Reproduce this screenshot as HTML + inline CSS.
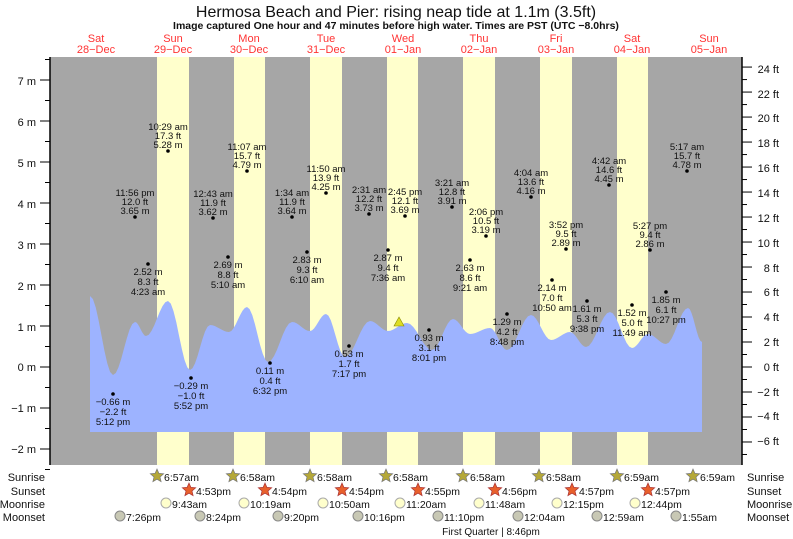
<!DOCTYPE html>
<html><head><meta charset="utf-8"><style>
html,body{margin:0;padding:0;background:#fff}
svg{display:block;font-family:"Liberation Sans",sans-serif}
</style></head><body>
<svg id="s" width="793" height="539" viewBox="0 0 793 539" xmlns="http://www.w3.org/2000/svg">
<text x="396" y="17" font-size="16" text-anchor="middle" fill="#111">Hermosa Beach and Pier: rising  neap tide at 1.1m (3.5ft)</text>
<text x="396" y="29" font-size="10.5" font-weight="bold" text-anchor="middle" fill="#111">Image captured One hour and 47 minutes before high water. Times are PST (UTC −8.0hrs)</text>
<g font-size="11" fill="#f33" text-anchor="middle">
<text x="96" y="42">Sat</text><text x="96" y="53">28−Dec</text>
<text x="173" y="42">Sun</text><text x="173" y="53">29−Dec</text>
<text x="249" y="42">Mon</text><text x="249" y="53">30−Dec</text>
<text x="326" y="42">Tue</text><text x="326" y="53">31−Dec</text>
<text x="403" y="42">Wed</text><text x="403" y="53">01−Jan</text>
<text x="479" y="42">Thu</text><text x="479" y="53">02−Jan</text>
<text x="556" y="42">Fri</text><text x="556" y="53">03−Jan</text>
<text x="632" y="42">Sat</text><text x="632" y="53">04−Jan</text>
<text x="709" y="42">Sun</text><text x="709" y="53">05−Jan</text>
</g>
<rect x="50" y="57" width="692" height="408" fill="#a6a6a6"/>
<g fill="#ffffcc">
<rect x="157" y="57" width="32" height="408"/><rect x="234" y="57" width="31" height="408"/>
<rect x="310" y="57" width="32" height="408"/><rect x="387" y="57" width="31" height="408"/>
<rect x="463" y="57" width="32" height="408"/><rect x="540" y="57" width="32" height="408"/>
<rect x="617" y="57" width="31" height="408"/>
</g>
<path id="tide" fill="#9db3ff" d=""/>
<line x1="50" y1="57" x2="50" y2="465" stroke="#000" stroke-width="1.5"/>
<line x1="742" y1="57" x2="742" y2="465" stroke="#000" stroke-width="1.5"/>
<g id="ticks" stroke="#000"></g>
<g font-size="11" fill="#111" text-anchor="end">
<text x="36" y="85">7 m</text><text x="36" y="126">6 m</text><text x="36" y="167">5 m</text><text x="36" y="208">4 m</text><text x="36" y="249">3 m</text><text x="36" y="290">2 m</text><text x="36" y="331">1 m</text><text x="36" y="371">0 m</text><text x="36" y="412">−1 m</text><text x="36" y="453">−2 m</text>
</g>
<g font-size="11" fill="#111" text-anchor="end">
<text x="779" y="73">24 ft</text><text x="779" y="98">22 ft</text><text x="779" y="122">20 ft</text><text x="779" y="147">18 ft</text><text x="779" y="172">16 ft</text><text x="779" y="197">14 ft</text><text x="779" y="222">12 ft</text><text x="779" y="247">10 ft</text><text x="779" y="272">8 ft</text><text x="779" y="296">6 ft</text><text x="779" y="321">4 ft</text><text x="779" y="346">2 ft</text><text x="779" y="371">0 ft</text><text x="779" y="396">−2 ft</text><text x="779" y="420">−4 ft</text><text x="779" y="445">−6 ft</text>
</g>
<g id="ann" font-size="9.5" fill="#111" text-anchor="middle">
<!-- highs -->
<text x="168" y="130">10:29 am</text><text x="168" y="139">17.3 ft</text><text x="168" y="148">5.28 m</text>
<text x="247" y="150">11:07 am</text><text x="247" y="159">15.7 ft</text><text x="247" y="168">4.79 m</text>
<text x="135" y="196">11:56 pm</text><text x="135" y="205">12.0 ft</text><text x="135" y="214">3.65 m</text>
<text x="213" y="197">12:43 am</text><text x="213" y="206">11.9 ft</text><text x="213" y="215">3.62 m</text>
<text x="292" y="196">1:34 am</text><text x="292" y="205">11.9 ft</text><text x="292" y="214">3.64 m</text>
<text x="326" y="172">11:50 am</text><text x="326" y="181">13.9 ft</text><text x="326" y="190">4.25 m</text>
<text x="369" y="193">2:31 am</text><text x="369" y="202">12.2 ft</text><text x="369" y="211">3.73 m</text>
<text x="405" y="195">2:45 pm</text><text x="405" y="204">12.1 ft</text><text x="405" y="213">3.69 m</text>
<text x="452" y="186">3:21 am</text><text x="452" y="195">12.8 ft</text><text x="452" y="204">3.91 m</text>
<text x="486" y="215">2:06 pm</text><text x="486" y="224">10.5 ft</text><text x="486" y="233">3.19 m</text>
<text x="531" y="176">4:04 am</text><text x="531" y="185">13.6 ft</text><text x="531" y="194">4.16 m</text>
<text x="566" y="228">3:52 pm</text><text x="566" y="237">9.5 ft</text><text x="566" y="246">2.89 m</text>
<text x="609" y="164">4:42 am</text><text x="609" y="173">14.6 ft</text><text x="609" y="182">4.45 m</text>
<text x="650" y="229">5:27 pm</text><text x="650" y="238">9.4 ft</text><text x="650" y="247">2.86 m</text>
<text x="687" y="150">5:17 am</text><text x="687" y="159">15.7 ft</text><text x="687" y="168">4.78 m</text>
<!-- lows -->
<text x="113" y="405">−0.66 m</text><text x="113" y="415">−2.2 ft</text><text x="113" y="425">5:12 pm</text>
<text x="148" y="275">2.52 m</text><text x="148" y="285">8.3 ft</text><text x="148" y="295">4:23 am</text>
<text x="191" y="389">−0.29 m</text><text x="191" y="399">−1.0 ft</text><text x="191" y="409">5:52 pm</text>
<text x="228" y="268">2.69 m</text><text x="228" y="278">8.8 ft</text><text x="228" y="288">5:10 am</text>
<text x="270" y="374">0.11 m</text><text x="270" y="384">0.4 ft</text><text x="270" y="394">6:32 pm</text>
<text x="307" y="263">2.83 m</text><text x="307" y="273">9.3 ft</text><text x="307" y="283">6:10 am</text>
<text x="349" y="357">0.53 m</text><text x="349" y="367">1.7 ft</text><text x="349" y="377">7:17 pm</text>
<text x="388" y="261">2.87 m</text><text x="388" y="271">9.4 ft</text><text x="388" y="281">7:36 am</text>
<text x="429" y="341">0.93 m</text><text x="429" y="351">3.1 ft</text><text x="429" y="361">8:01 pm</text>
<text x="470" y="271">2.63 m</text><text x="470" y="281">8.6 ft</text><text x="470" y="291">9:21 am</text>
<text x="507" y="325">1.29 m</text><text x="507" y="335">4.2 ft</text><text x="507" y="345">8:48 pm</text>
<text x="552" y="291">2.14 m</text><text x="552" y="301">7.0 ft</text><text x="552" y="311">10:50 am</text>
<text x="587" y="312">1.61 m</text><text x="587" y="322">5.3 ft</text><text x="587" y="332">9:38 pm</text>
<text x="632" y="316">1.52 m</text><text x="632" y="326">5.0 ft</text><text x="632" y="336">11:49 am</text>
<text x="666" y="303">1.85 m</text><text x="666" y="313">6.1 ft</text><text x="666" y="323">10:27 pm</text>
</g>
<g id="dots" fill="#000"></g>
<polygon points="399,317 394,326 404,326" fill="#dddd22" stroke="#888800" stroke-width="0.6"/>
<g font-size="11" fill="#111">
<g text-anchor="end"><text x="45" y="481">Sunrise</text><text x="45" y="495">Sunset</text><text x="45" y="508">Moonrise</text><text x="45" y="521">Moonset</text></g>
<text x="747" y="481">Sunrise</text><text x="747" y="495">Sunset</text><text x="747" y="508">Moonrise</text><text x="747" y="521">Moonset</text>
</g>
<g id="bot" font-size="10.5" fill="#111"></g>
<text x="491" y="535" font-size="10" fill="#111" text-anchor="middle">First Quarter | 8:46pm</text>
</svg>
<script>
var P=[[90,296],[113,375],[135,322],[146,336],[168,301],[190,370],[210,325],[229,332],[247,307],[268,362],[292,322],[310,331],[326,314],[345,357],[370,321],[388,331],[407,323],[432,350],[453,319],[470,334],[490,328],[507,350],[531,315],[551,340],[570,332],[586,347],[610,312],[632,348],[648,334],[666,344],[688,308],[702,342]];
var d="M90,432 L90,296";
for(var i=0;i<P.length-1;i++){var a=P[i],b=P[i+1];for(var t=1;t<=8;t++){var f=t/8,x=a[0]+(b[0]-a[0])*f,y=a[1]+(b[1]-a[1])*(1-Math.cos(Math.PI*f))/2;d+=" L"+x.toFixed(1)+","+y.toFixed(1);}}
d+=" L702,432 Z";document.getElementById("tide").setAttribute("d",d);
var NS="http://www.w3.org/2000/svg";
function el(g,n,at,txt){var e=document.createElementNS(NS,n);for(var k in at)e.setAttribute(k,at[k]);if(txt)e.textContent=txt;g.appendChild(e);return e;}
var tk=document.getElementById("ticks");
for(var m=-2;m<=7;m++){var y=367-41*m;el(tk,"line",{x1:40,x2:50,y1:y,y2:y});}
for(var m=-2.5;m<=7.5;m+=0.5){var y=367-41*m;el(tk,"line",{x1:45,x2:50,y1:y,y2:y});}
for(var f=-7;f<=24;f++){var y=367-12.497*f;el(tk,"line",{x1:742,x2:(f%2==0?752:747),y1:y,y2:y});}
var D=[[168,151],[247,171],[135,217],[213,218],[292,217],[326,193],[369,214],[405,216],[452,207],[486,236],[531,197],[566,249],[609,185],[650,250],[687,171],[113,394],[148,264],[191,378],[228,257],[270,363],[307,252],[349,346],[388,250],[429,330],[470,260],[507,314],[552,280],[587,301],[632,305],[666,292]];
var dg=document.getElementById("dots");D.forEach(function(p){el(dg,"circle",{cx:p[0],cy:p[1],r:1.8});});
var bg=document.getElementById("bot");
function star(x,y,c,s){var pts=[];for(var i=0;i<10;i++){var r=i%2?3.2:7,a=-Math.PI/2+i*Math.PI/5;pts.push((x+r*Math.cos(a)).toFixed(1)+","+(y+r*Math.sin(a)).toFixed(1));}el(bg,"polygon",{points:pts.join(" "),fill:c,stroke:s,"stroke-width":0.7});}
var SR=[[157,"6:57am"],[233,"6:58am"],[310,"6:58am"],[386,"6:58am"],[463,"6:58am"],[539,"6:58am"],[617,"6:59am"],[693,"6:59am"]];
SR.forEach(function(p){star(p[0],476,"#b5a838","#777");el(bg,"text",{x:p[0]+7,y:481},p[1]);});
var SS=[[189,"4:53pm"],[265,"4:54pm"],[342,"4:54pm"],[418,"4:55pm"],[495,"4:56pm"],[572,"4:57pm"],[648,"4:57pm"]];
SS.forEach(function(p){star(p[0],490,"#e8602c","#a33");el(bg,"text",{x:p[0]+7,y:495},p[1]);});
var MR=[[166,"9:43am"],[244,"10:19am"],[323,"10:50am"],[400,"11:20am"],[479,"11:48am"],[557,"12:15pm"],[635,"12:44pm"]];
MR.forEach(function(p){el(bg,"circle",{cx:p[0],cy:503,r:5,fill:"#ffffcc",stroke:"#aaa"});el(bg,"text",{x:p[0]+6,y:508},p[1]);});
var MS=[[120,"7:26pm"],[200,"8:24pm"],[278,"9:20pm"],[358,"10:16pm"],[438,"11:10pm"],[518,"12:04am"],[597,"12:59am"],[676,"1:55am"]];
MS.forEach(function(p){el(bg,"circle",{cx:p[0],cy:516,r:5,fill:"#c8c8b4",stroke:"#888"});el(bg,"text",{x:p[0]+6,y:521},p[1]);});
</script>
</body></html>
